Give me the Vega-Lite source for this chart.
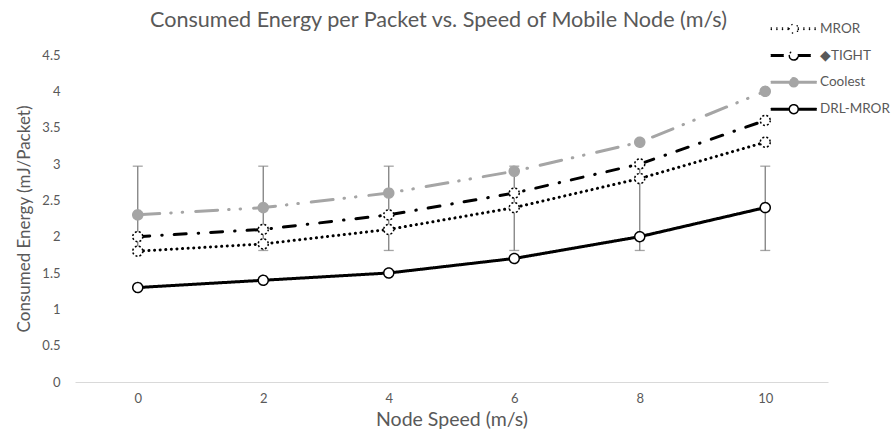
{
  "$schema": "https://vega.github.io/schema/vega-lite/v6.json",
  "width": 753,
  "height": 327,
  "autosize": {"type": "none"},
  "padding": {"left": 75, "top": 55, "right": 66, "bottom": 54},
  "background": "white",
  "config": {
    "font": "Lato",
    "view": {"stroke": null},
    "axis": {"labelColor": "#595959", "titleColor": "#595959", "labelFont": "Lato", "titleFont": "Lato", "grid": false},
    "title": {"font": "Lato", "fontSize": 21.6, "fontWeight": "normal", "color": "#595959"}
  },
  "title": {
    "text": "Consumed Energy per Packet vs. Speed of Mobile Node (m/s)",
    "anchor": "middle",
    "frame": "group",
    "offset": -10,
    "dx": -13
  },
  "datasets": {
    "lines": [
      {"series": "MROR", "speed": 0, "energy": 1.8},
      {"series": "MROR", "speed": 2, "energy": 1.9},
      {"series": "MROR", "speed": 4, "energy": 2.1},
      {"series": "MROR", "speed": 6, "energy": 2.4},
      {"series": "MROR", "speed": 8, "energy": 2.8},
      {"series": "MROR", "speed": 10, "energy": 3.3},
      {"series": "TIGHT", "speed": 0, "energy": 2.0},
      {"series": "TIGHT", "speed": 2, "energy": 2.1},
      {"series": "TIGHT", "speed": 4, "energy": 2.3},
      {"series": "TIGHT", "speed": 6, "energy": 2.6},
      {"series": "TIGHT", "speed": 8, "energy": 3.0},
      {"series": "TIGHT", "speed": 10, "energy": 3.6},
      {"series": "Coolest", "speed": 0, "energy": 2.3},
      {"series": "Coolest", "speed": 2, "energy": 2.4},
      {"series": "Coolest", "speed": 4, "energy": 2.6},
      {"series": "Coolest", "speed": 6, "energy": 2.9},
      {"series": "Coolest", "speed": 8, "energy": 3.3},
      {"series": "Coolest", "speed": 10, "energy": 4.0},
      {"series": "DRL-MROR", "speed": 0, "energy": 1.3},
      {"series": "DRL-MROR", "speed": 2, "energy": 1.4},
      {"series": "DRL-MROR", "speed": 4, "energy": 1.5},
      {"series": "DRL-MROR", "speed": 6, "energy": 1.7},
      {"series": "DRL-MROR", "speed": 8, "energy": 2.0},
      {"series": "DRL-MROR", "speed": 10, "energy": 2.4}
    ],
    "err": [
      {"speed": 0, "low": 1.81, "high": 2.97},
      {"speed": 2, "low": 1.81, "high": 2.97},
      {"speed": 4, "low": 1.81, "high": 2.97},
      {"speed": 6, "low": 1.81, "high": 2.97},
      {"speed": 8, "low": 1.81, "high": 2.97},
      {"speed": 10, "low": 1.81, "high": 2.97}
    ]
  },
  "encoding": {
    "x": {
      "field": "speed",
      "type": "ordinal",
      "scale": {"type": "point", "padding": 0.5},
      "axis": {
        "title": "Node Speed (m/s)",
        "labelAngle": 0,
        "domainColor": "#d9d9d9",
        "domainWidth": 1,
        "ticks": false,
        "labelPadding": 10,
        "labelFontSize": 13,
        "titleFontSize": 19.5,
        "titleFontWeight": "normal",
        "titlePadding": 5
      }
    }
  },
  "layer": [
    {
      "data": {"name": "err"},
      "mark": {"type": "rule", "color": "#7f7f7f", "strokeWidth": 1.3},
      "encoding": {
        "y": {
          "field": "low",
          "type": "quantitative",
          "scale": {"domain": [0, 4.5]},
          "axis": {
            "values": [0, 0.5, 1, 1.5, 2, 2.5, 3, 3.5, 4, 4.5],
            "labelExpr": "format(datum.value, '~g')",
            "labelOverlap": false,
            "domain": false,
            "ticks": false,
            "labelPadding": 15,
            "labelFontSize": 13,
            "title": "Consumed Energy (mJ/Packet)",
            "titleFontSize": 17,
            "titleFontWeight": "normal",
            "titlePadding": 8
          }
        },
        "y2": {"field": "high"}
      }
    },
    {
      "data": {"name": "err"},
      "mark": {"type": "tick", "color": "#7f7f7f", "orient": "horizontal", "size": 10, "thickness": 1.3},
      "encoding": {
        "y": {
          "field": "low",
          "type": "quantitative",
          "axis": {
            "values": [0, 0.5, 1, 1.5, 2, 2.5, 3, 3.5, 4, 4.5],
            "labelExpr": "format(datum.value, '~g')",
            "labelOverlap": false,
            "domain": false,
            "ticks": false,
            "labelPadding": 15,
            "labelFontSize": 13,
            "title": "Consumed Energy (mJ/Packet)",
            "titleFontSize": 17,
            "titleFontWeight": "normal",
            "titlePadding": 8
          }
        }
      }
    },
    {
      "data": {"name": "err"},
      "mark": {"type": "tick", "color": "#7f7f7f", "orient": "horizontal", "size": 10, "thickness": 1.3},
      "encoding": {
        "y": {
          "field": "high",
          "type": "quantitative",
          "axis": {
            "values": [0, 0.5, 1, 1.5, 2, 2.5, 3, 3.5, 4, 4.5],
            "labelExpr": "format(datum.value, '~g')",
            "labelOverlap": false,
            "domain": false,
            "ticks": false,
            "labelPadding": 15,
            "labelFontSize": 13,
            "title": "Consumed Energy (mJ/Packet)",
            "titleFontSize": 17,
            "titleFontWeight": "normal",
            "titlePadding": 8
          }
        }
      }
    },
    {
      "data": {"name": "lines"},
      "mark": {"type": "line", "strokeWidth": 3, "strokeCap": "round"},
      "encoding": {
        "y": {
          "field": "energy",
          "type": "quantitative",
          "axis": {
            "values": [0, 0.5, 1, 1.5, 2, 2.5, 3, 3.5, 4, 4.5],
            "labelExpr": "format(datum.value, '~g')",
            "labelOverlap": false,
            "domain": false,
            "ticks": false,
            "labelPadding": 15,
            "labelFontSize": 13,
            "title": "Consumed Energy (mJ/Packet)",
            "titleFontSize": 17,
            "titleFontWeight": "normal",
            "titlePadding": 8
          }
        },
        "color": {
          "field": "series",
          "type": "nominal",
          "scale": {"domain": ["MROR", "TIGHT", "Coolest", "DRL-MROR"], "range": ["#000000", "#000000", "#a5a5a5", "#000000"]},
          "legend": {
            "orient": "none",
            "legendX": 712,
            "legendY": -33,
            "title": null,
            "padding": 0,
            "symbolType": "M-4.5,-0.15H-0.9M-4.5,0.15H-0.9M0.9,-0.15H4.5M0.9,0.15H4.5M-0.9,0A0.9,0.9 0 1,0 0.9,0A0.9,0.9 0 1,0 -0.9,0Z",
            "symbolSize": 100,
            "symbolStrokeWidth": 1.5,
            "labelOffset": 19.5,
            "labelFontSize": 13.5,
            "labelFont": "Lato",
            "labelColor": "#595959",
            "rowPadding": 10.8,
            "labelExpr": "datum.label == 'TIGHT' ? '\u25c6TIGHT' : datum.label",
            "encode": {
              "symbols": {
                "update": {
                  "strokeCap": {"value": "round"},
                  "fill": {"signal": "datum.value == 'Coolest' ? '#a5a5a5' : '#ffffff'"},
                  "fillOpacity": {"value": 1}
                }
              }
            }
          }
        },
        "strokeDash": {
          "field": "series",
          "type": "nominal",
          "scale": {"domain": ["MROR", "TIGHT", "Coolest", "DRL-MROR"], "range": [[0.1, 5.5], [12, 12, 0.5, 12], [22, 11, 0.5, 11, 0.5, 13], [1, 0]]}
        }
      }
    },
    {
      "data": {"name": "lines"},
      "mark": {"type": "point", "shape": "circle", "size": 100, "strokeWidth": 1.5, "opacity": 1},
      "encoding": {
        "y": {
          "field": "energy",
          "type": "quantitative",
          "axis": {
            "values": [0, 0.5, 1, 1.5, 2, 2.5, 3, 3.5, 4, 4.5],
            "labelExpr": "format(datum.value, '~g')",
            "labelOverlap": false,
            "domain": false,
            "ticks": false,
            "labelPadding": 15,
            "labelFontSize": 13,
            "title": "Consumed Energy (mJ/Packet)",
            "titleFontSize": 17,
            "titleFontWeight": "normal",
            "titlePadding": 8
          }
        },
        "fill": {
          "field": "series",
          "type": "nominal",
          "scale": {"domain": ["MROR", "TIGHT", "Coolest", "DRL-MROR"], "range": ["#ffffff", "#ffffff", "#a5a5a5", "#ffffff"]},
          "legend": null
        },
        "stroke": {
          "field": "series",
          "type": "nominal",
          "scale": {"domain": ["MROR", "TIGHT", "Coolest", "DRL-MROR"], "range": ["#000000", "#000000", "#a5a5a5", "#000000"]},
          "legend": null
        },
        "strokeDash": {
          "condition": {"test": "datum.series == 'MROR' || datum.series == 'TIGHT'", "value": [2, 2]},
          "value": [1, 0]
        }
      }
    }
  ]
}
